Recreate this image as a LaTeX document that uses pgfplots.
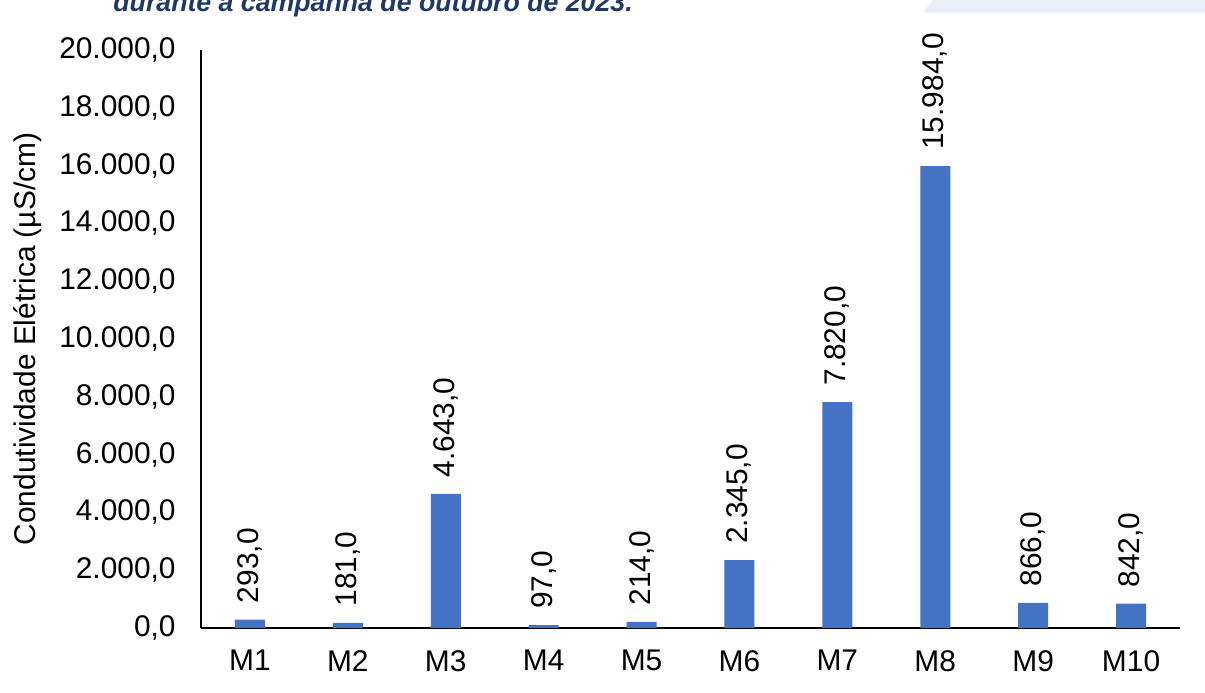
\documentclass[border=0pt]{standalone}
\usepackage{fontspec}
\setmainfont{Liberation Sans}
\usepackage{pgfplots}
\pgfplotsset{compat=1.18}
\definecolor{barblue}{HTML}{4472C4}
\definecolor{capnavy}{HTML}{1F3864}
\definecolor{bandblue}{HTML}{E7F0F9}

\begin{document}
\begin{tikzpicture}
  \useasboundingbox (0bp,0bp) rectangle (602.5bp,346.5bp);
  % pale band and cut caption at the top, as in the page crop
  \fill[bandblue] (461.5bp,340.2bp) -- (467.5bp,348bp) -- (605bp,348bp)
    -- (605bp,340.2bp) -- cycle;
  \node[anchor=base west, inner sep=0, text=capnavy,
        font=\fontsize{13.4}{15}\selectfont\bfseries\itshape] at (56.5bp,340.6bp)
        {durante a campanha de outubro de 2023.};
  \begin{axis}[
      at={(100.5bp,32.5bp)}, anchor=south west,
      scale only axis, width=489.5bp, height=289bp,
      xmin=0.5, xmax=10.5, ymin=0, ymax=20000,
      axis x line=bottom, axis y line=left,
      axis line style={-, black, line width=1.3bp},
      major tick length=0,
      xtick={1,...,10},
      xticklabels={M1,M2,M3,M4,M5,M6,M7,M8,M9,M10},
      ytick={0,2000,...,20000},
      scaled y ticks=false,
      tick label style={font=\fontsize{15}{17}\selectfont},
      xticklabel style={anchor=north, inner sep=0, yshift=-11bp},
      yticklabel style={anchor=east, inner sep=0, xshift=-12.5bp},
      /pgf/number format/.cd, use comma, 1000 sep={.}, fixed, fixed zerofill,
        precision=1, assume math mode=true,
      /pgfplots/.cd,
      ylabel={Condutividade Elétrica (µS/cm)},
      ylabel style={at={(axis description cs:-0.1767,0.5)}, anchor=center,
                    font=\fontsize{15}{17}\selectfont},
      ybar, bar width=15bp,
      nodes near coords,
      nodes near coords style={rotate=90, anchor=west, inner xsep=8bp,
                               inner ysep=0, font=\fontsize{15}{17}\selectfont},
    ]
    \addplot[draw=none, fill=barblue] coordinates {
      (1,293) (2,181) (3,4643) (4,97) (5,214)
      (6,2345) (7,7820) (8,15984) (9,866) (10,842)
    };
  \end{axis}
\end{tikzpicture}
\end{document}
